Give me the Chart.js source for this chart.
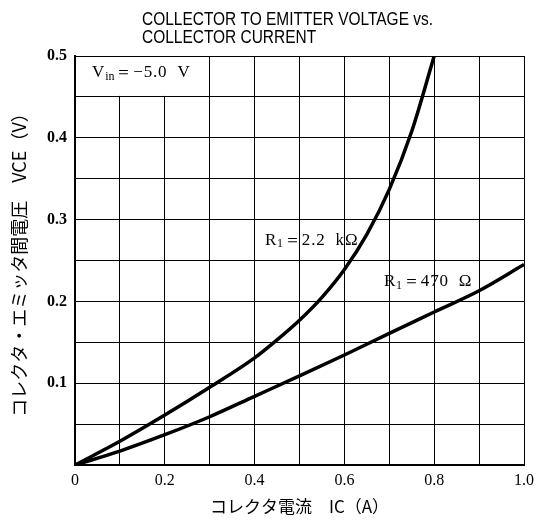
<!DOCTYPE html>
<html><head><meta charset="utf-8">
<script src="https://cdn.jsdelivr.net/npm/chart.js@4.4.1/dist/chart.umd.min.js"></script>
<style>html,body{margin:0;padding:0;background:#fff}#wrap{width:552px;height:527px}</style>
</head><body><div id="wrap"><canvas id="c"></canvas></div>
<script>
const titleLines = ['COLLECTOR TO EMITTER VOLTAGE vs.', 'COLLECTOR CURRENT'];
const xTitle = 'コレクタ電流　IC（A）';
const yTitle = 'コレクタ・エミッタ間電圧　VCE（V）';
const xTickLabels = {0:'0', 0.2:'0.2', 0.4:'0.4', 0.6:'0.6', 0.8:'0.8', 1:'1.0'};
const yTickLabels = {0.1:'0.1', 0.2:'0.2', 0.3:'0.3', 0.4:'0.4', 0.5:'0.5'};
const ic22k = [0, 0.1, 0.2, 0.3, 0.4, 0.45, 0.5, 0.55, 0.6, 0.65, 0.7, 0.75, 0.8];
const vce22k = [0, 0.029, 0.061, 0.095, 0.131, 0.153, 0.177, 0.205, 0.239, 0.282, 0.337, 0.408, 0.5];
const ic470 = [0, 0.1, 0.2, 0.3, 0.4, 0.5, 0.6, 0.7, 0.8, 0.9, 1.0];
const vce470 = [0, 0.017, 0.037, 0.059, 0.084, 0.109, 0.1345, 0.161, 0.187, 0.213, 0.245];
const labels = [
  {x: 0.038, y: 0.48, parts: [['V'], ['in', 1], ['＝−5.0  V']]},
  {x: 0.423, y: 0.275, parts: [['R'], ['1', 1], ['＝2.2  kΩ']]},
  {x: 0.688, y: 0.224, parts: [['R'], ['1', 1], ['＝470  Ω']]}
];

const pts = (xs, ys) => xs.map((x, i) => ({x, y: ys[i]}));

function drawParts(ctx, x, y, parts) {
  let cx = x;
  parts.forEach(([t, sub]) => {
    ctx.font = sub ? '12px "Liberation Serif"' : '17px "Liberation Serif"';
    ctx.letterSpacing = sub ? '0px' : '0.8px';
    ctx.fillText(t, cx, sub ? y + 4 : y);
    cx += ctx.measureText(t).width + (sub ? 1 : 0);
  });
  ctx.letterSpacing = '0px';
}

const deco = {
  id: 'deco',
  beforeDatasetsDraw(chart) {
    const {ctx, scales: {x, y}} = chart;
    ctx.save();
    ctx.fillStyle = '#fff';
    const l = x.getPixelForValue(0) + 1, r = x.getPixelForValue(0.3) - 1;
    const t = y.getPixelForValue(0.5) + 1, b = y.getPixelForValue(0.45) - 1;
    ctx.fillRect(l, t, r - l, b - t);
    ctx.restore();
  },
  afterDatasetsDraw(chart) {
    const {ctx, scales: {x, y}} = chart;
    ctx.save();
    ctx.fillStyle = '#000';
    ctx.textBaseline = 'middle';
    labels.forEach(lb => drawParts(ctx, x.getPixelForValue(lb.x), y.getPixelForValue(lb.y), lb.parts));
    ctx.font = '18px "Liberation Sans"';
    ctx.textBaseline = 'alphabetic';
    const w = ctx.measureText(titleLines[0]).width;
    ctx.translate(142, 0);
    ctx.scale(291 / w, 1);
    ctx.fillText(titleLines[0], 0, 25);
    ctx.fillText(titleLines[1], 0, 43);
    ctx.restore();
  }
};

new Chart(document.getElementById('c'), {
  type: 'scatter',
  data: {datasets: [
    {label: 'R1=2.2kΩ', data: pts(ic22k, vce22k), showLine: true, borderColor: '#000', borderWidth: 3.5, pointRadius: 0, cubicInterpolationMode: 'monotone', fill: false},
    {label: 'R1=470Ω', data: pts(ic470, vce470), showLine: true, borderColor: '#000', borderWidth: 3.5, pointRadius: 0, cubicInterpolationMode: 'monotone', fill: false}
  ]},
  options: {
    responsive: true, maintainAspectRatio: false, animation: false,
    layout: {padding: {left: 0, right: 28, top: 56, bottom: 6}},
    plugins: {legend: {display: false}, tooltip: {enabled: false}},
    scales: {
      x: {
        type: 'linear', min: 0, max: 1,
        afterBuildTicks: s => { s.ticks = [0,0.1,0.2,0.3,0.4,0.5,0.6,0.7,0.8,0.9,1].map(v => ({value: v})); },
        ticks: {autoSkip: false, maxRotation: 0, color: '#000', padding: 6, font: {family: '"Liberation Serif"', size: 16},
          callback: v => xTickLabels[Math.round(v*10)/10] || ''},
        grid: {color: '#000', lineWidth: 1, drawTicks: false},
        border: {color: '#000', width: 2},
        title: {display: true, text: xTitle, color: '#000', font: {family: '"Noto Sans CJK JP"', size: 17}, padding: {top: 4}},
        afterFit: s => { s.height = 56; }
      },
      y: {
        type: 'linear', min: 0, max: 0.5,
        afterBuildTicks: s => { s.ticks = [0,0.05,0.1,0.15,0.2,0.25,0.3,0.35,0.4,0.45,0.5].map(v => ({value: v})); },
        ticks: {autoSkip: false, color: '#000', padding: 8, font: {family: '"Liberation Serif"', size: 16, weight: 'bold'},
          callback: v => yTickLabels[Math.round(v*100)/100] || ''},
        grid: {color: '#000', lineWidth: 1, drawTicks: false},
        border: {color: '#000', width: 2},
        title: {display: true, text: yTitle, color: '#000', font: {family: '"Noto Sans CJK JP"', size: 18}, padding: {top: 8, bottom: 0}},
        afterFit: s => { s.width = 75; }
      }
    }
  },
  plugins: [deco]
});
</script></body></html>
